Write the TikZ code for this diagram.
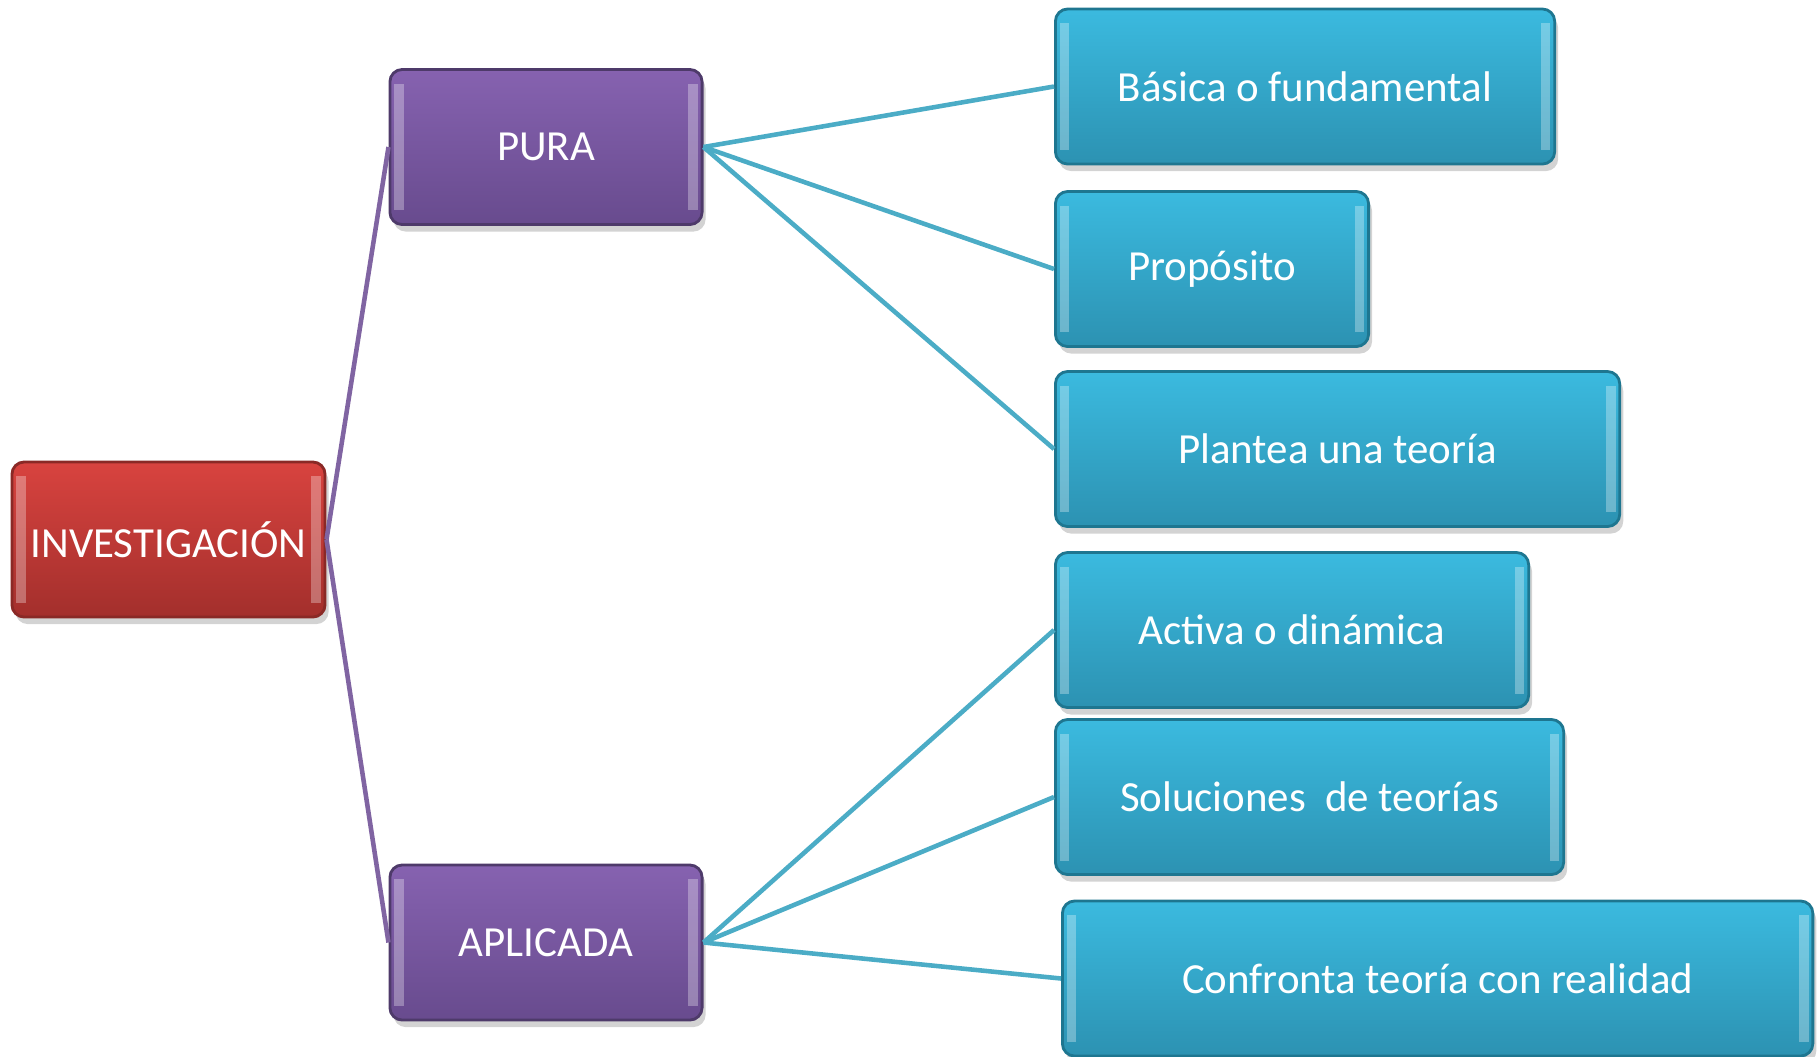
\documentclass[tikz,border=0pt]{standalone}
\usepackage{fontspec}
\setmainfont{Carlito}
\usetikzlibrary{positioning,shadows}

\definecolor{redtop}{HTML}{D8433F}
\definecolor{redbot}{HTML}{A32F2C}
\definecolor{redline}{HTML}{8A2926}
\definecolor{purtop}{HTML}{8662B0}
\definecolor{purbot}{HTML}{684B8E}
\definecolor{purline}{HTML}{8064A2}
\definecolor{purdark}{HTML}{4E3A6A}
\definecolor{teatop}{HTML}{3BBADF}
\definecolor{teabot}{HTML}{2C92B2}
\definecolor{tealine}{HTML}{4BACC6}
\definecolor{teadark}{HTML}{1E7690}

\begin{document}
\begin{tikzpicture}[
    x=0.01cm, y=-0.01cm,
    box/.style={rectangle, draw, line width=0.8pt, rounded corners=3.5pt, minimum height=1.55cm,
        inner sep=0pt, text=white, font=\fontsize{12.2}{14}\selectfont,
        drop shadow={shadow xshift=1pt, shadow yshift=-2pt, opacity=.35},
        path picture={
            \fill[white, opacity=.3, sharp corners] ([shift={(1.2pt,-4pt)}]path picture bounding box.north west)
                rectangle ([shift={(4pt,4pt)}]path picture bounding box.south west);
            \fill[white, opacity=.3, sharp corners] ([shift={(-1.2pt,-4pt)}]path picture bounding box.north east)
                rectangle ([shift={(-4pt,4pt)}]path picture bounding box.south east);
        }},
    rootbox/.style={box, draw=redline, top color=redtop, bottom color=redbot},
    catbox/.style={box, draw=purdark, top color=purtop, bottom color=purbot, minimum width=3.12cm},
    leafbox/.style={box, draw=teadark, top color=teatop, bottom color=teabot, anchor=west},
    link/.style={line width=1.3pt, purline},
    leaflink/.style={line width=1.3pt, tealine}
]
    \useasboundingbox (0,0) rectangle (1820,1056);

    % Root
    \node[rootbox, minimum width=3.13cm] (inv) at (168.5,539.5) {INVESTIGACIÓN};

    % Categories
    \node[catbox] (pura) at (546,147) {PURA};
    \node[catbox] (aplicada) at (546,942.5) {APLICADA};

    % PURA leaves
    \node[leafbox, minimum width=4.99cm] (basica) at (1054,86.5) {Básica o fundamental};
    \node[leafbox, minimum width=3.13cm] (proposito) at (1054,269) {Propósito};
    \node[leafbox, minimum width=5.64cm] (plantea) at (1054,449) {Plantea una teoría};

    % APLICADA leaves
    \node[leafbox, minimum width=4.73cm] (activa) at (1054,630) {Activa o dinámica};
    \node[leafbox, minimum width=5.08cm] (soluciones) at (1054,797) {Soluciones \ de teorías};
    \node[leafbox, minimum width=7.50cm] (confronta) at (1061,978.5) {Confronta teoría con realidad};

    % Root -> categories
    \draw[link] (inv.east) -- (pura.west);
    \draw[link] (inv.east) -- (aplicada.west);

    % PURA -> leaves
    \draw[leaflink] (pura.east) -- (basica.west);
    \draw[leaflink] (pura.east) -- (proposito.west);
    \draw[leaflink] (pura.east) -- (plantea.west);

    % APLICADA -> leaves
    \draw[leaflink] (aplicada.east) -- (activa.west);
    \draw[leaflink] (aplicada.east) -- (soluciones.west);
    \draw[leaflink] (aplicada.east) -- (confronta.west);

\end{tikzpicture}
\end{document}
